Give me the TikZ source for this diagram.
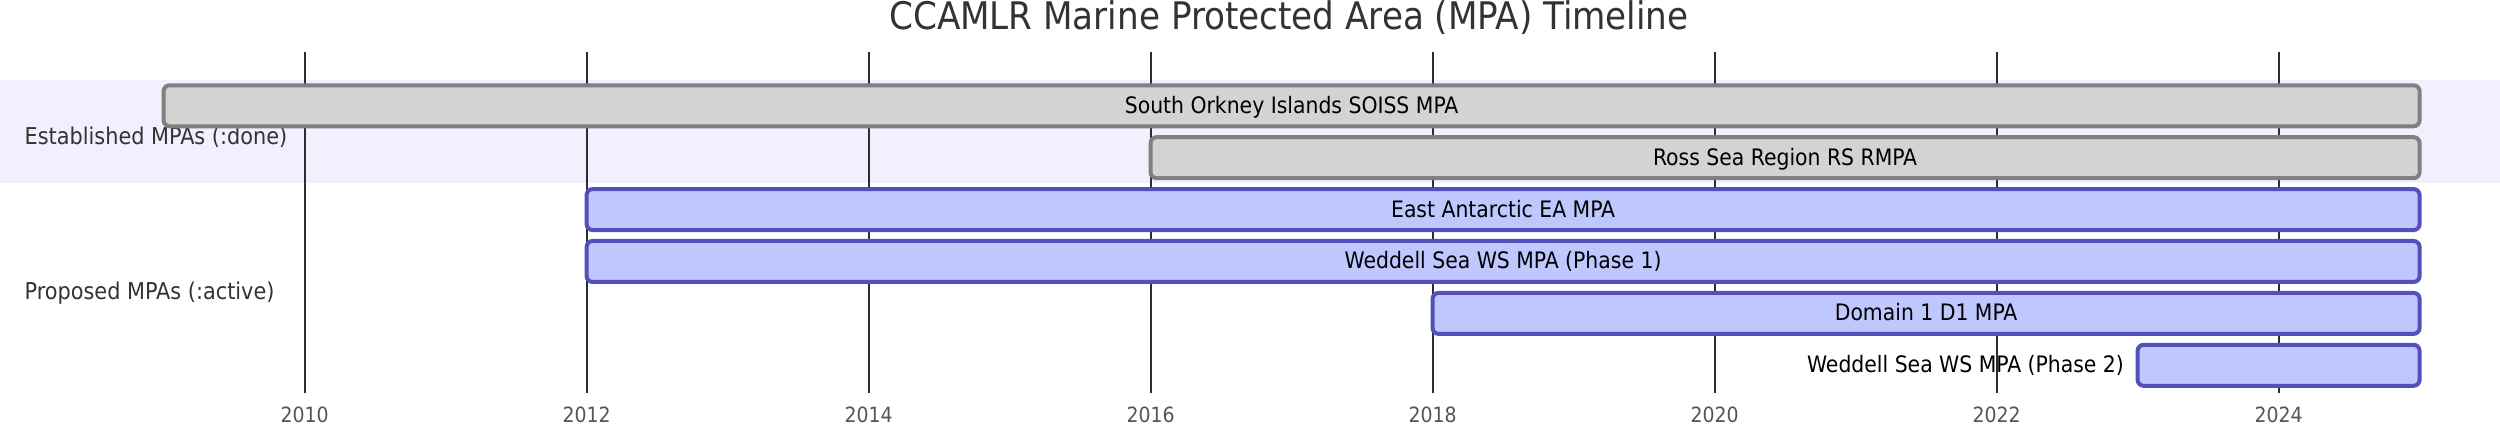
\documentclass[tikz,border=0pt]{standalone}
\usepackage{fontspec}
\setmainfont{DejaVu Sans Condensed}
\definecolor{bandfill}{RGB}{240,240,254}
\definecolor{donefill}{RGB}{211,211,211}
\definecolor{donestroke}{RGB}{128,128,128}
\definecolor{actfill}{RGB}{191,199,255}
\definecolor{actstroke}{RGB}{83,79,188}
\definecolor{titlecol}{RGB}{51,51,51}
\definecolor{gridcol}{RGB}{45,45,45}
\definecolor{tickcol}{RGB}{85,85,85}
\begin{document}
\begin{tikzpicture}[x=0.3pt,y=-0.3pt,
  donebar/.style={draw=donestroke,fill=donefill,line width=1.2pt,rounded corners=1.8pt},
  actbar/.style={draw=actstroke,fill=actfill,line width=1.2pt,rounded corners=1.8pt},
  gridline/.style={draw=gridcol,line width=0.55pt},
  ticklabel/.style={anchor=base,inner sep=0pt,text=tickcol,font=\fontsize{6.3}{7}\selectfont},
  seclabel/.style={anchor=base west,inner sep=0pt,text=titlecol,font=\fontsize{6.95}{8}\selectfont},
  barlabel/.style={anchor=base,inner sep=0pt,text=black,font=\fontsize{6.8}{8}\selectfont},
  outlabel/.style={anchor=base east,inner sep=0pt,text=black,font=\fontsize{6.8}{8}\selectfont},
  titlestyle/.style={anchor=base,inner sep=0pt,text=titlecol,font=\fontsize{11.4}{13}\selectfont}]
\useasboundingbox (0,0) rectangle (2500,425);
% section band
\fill[bandfill] (0,80) rectangle (2500,183.3);
% title
\node[titlestyle] (title) at (1289,30) {CCAMLR Marine Protected Area (MPA) Timeline};
% grid and ticks
\foreach \yr in {2010,2012,...,2024}{
  \draw[gridline] ({304.6+(\yr-2010)*141},52) -- ({304.6+(\yr-2010)*141},393);
  \node[ticklabel] (t\yr) at ({304.6+(\yr-2010)*141},423) {\yr};
}
% section labels
\node[seclabel] (sec1) at (24,144.3) {Established MPAs (:done)};
\node[seclabel] (sec2) at (24,299.3) {Proposed MPAs (:active)};
% bars
\draw[donebar] ({304.6+(2009-2010)*141},85.3) rectangle ({304.6+(2025-2010)*141},126.3);
\node[barlabel] (b1) at ({(304.6+(2009-2010)*141+304.6+(2025-2010)*141)/2},113.3) {South Orkney Islands SOISS MPA};
\draw[donebar] ({304.6+(2016-2010)*141},137.2) rectangle ({304.6+(2025-2010)*141},178.2);
\node[barlabel] (b2) at ({(304.6+(2016-2010)*141+304.6+(2025-2010)*141)/2},165.2) {Ross Sea Region RS RMPA};
\draw[actbar] ({304.6+(2012-2010)*141},189.1) rectangle ({304.6+(2025-2010)*141},230.1);
\node[barlabel] (b3) at ({(304.6+(2012-2010)*141+304.6+(2025-2010)*141)/2},217.1) {East Antarctic EA MPA};
\draw[actbar] ({304.6+(2012-2010)*141},241.0) rectangle ({304.6+(2025-2010)*141},282.0);
\node[barlabel] (b4) at ({(304.6+(2012-2010)*141+304.6+(2025-2010)*141)/2},269.0) {Weddell Sea WS MPA (Phase 1)};
\draw[actbar] ({304.6+(2018-2010)*141},292.9) rectangle ({304.6+(2025-2010)*141},333.9);
\node[barlabel] (b5) at ({(304.6+(2018-2010)*141+304.6+(2025-2010)*141)/2},320.9) {Domain 1 D1 MPA};
\draw[actbar] ({304.6+(2023-2010)*141},344.8) rectangle ({304.6+(2025-2010)*141},385.8);
\node[outlabel] (b6) at ({304.6+(2023-2010)*141-13},372.8) {Weddell Sea WS MPA (Phase 2)};
\end{tikzpicture}
\end{document}
